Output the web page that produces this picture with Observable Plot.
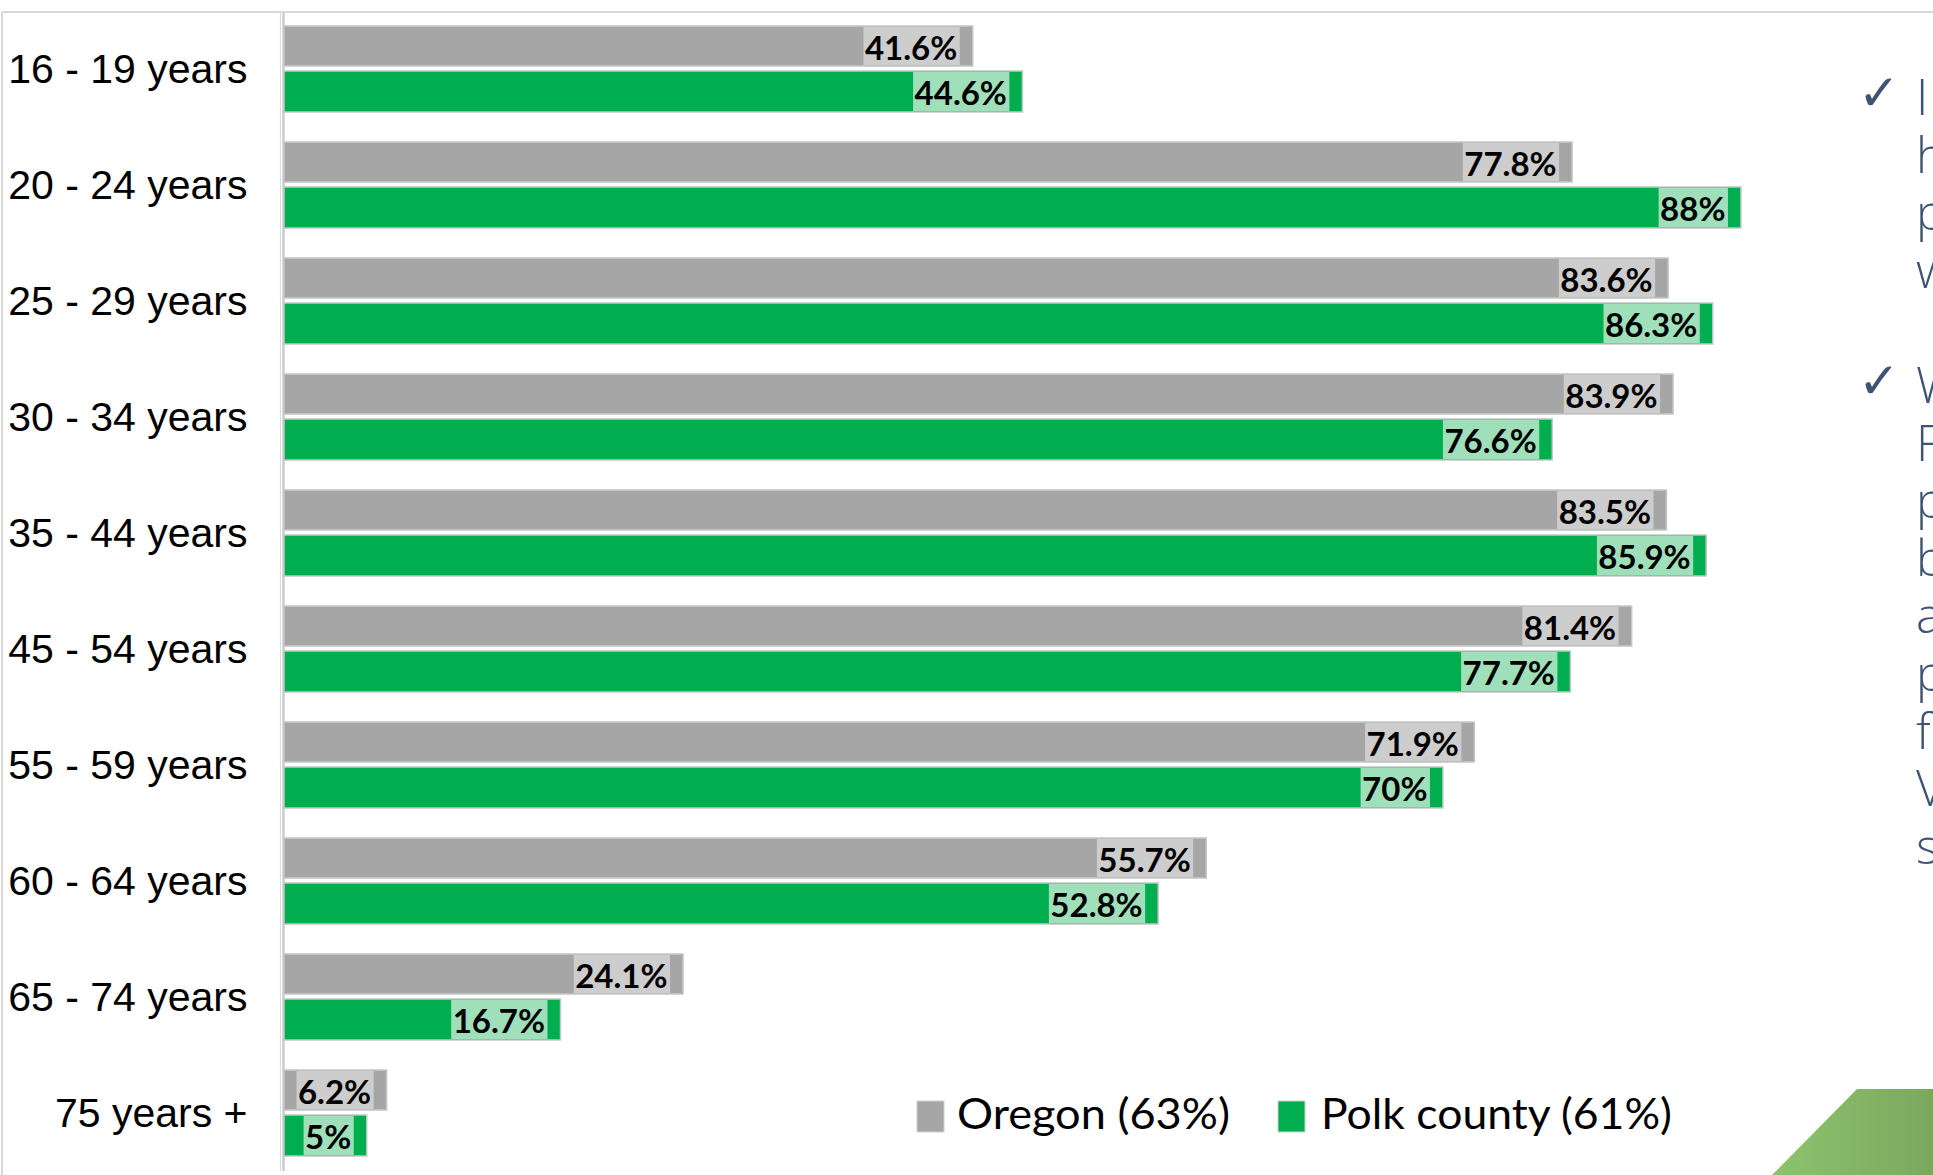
<!DOCTYPE html>
<html>
<head>
<meta charset="utf-8">
<script src="https://cdn.jsdelivr.net/npm/d3@7"></script>
<script src="https://cdn.jsdelivr.net/npm/@observablehq/plot@0.6"></script>
<style>
  html, body { margin: 0; padding: 0; background: #fff; width: 1933px; height: 1175px; overflow: hidden; }
  #wrap { position: relative; width: 1933px; height: 1175px; overflow: hidden; background: #fff; }
  #chart { position: absolute; left: 0; top: 0; }
  #overlay { position: absolute; left: 0; top: 0; pointer-events: none; }
</style>
</head>
<body>
<div id="wrap">
  <div id="chart"></div>
  <svg id="overlay" width="1933" height="1175"></svg>
</div>
<script>
// ---------- data ----------
const categories = ["16 - 19 years", "20 - 24 years", "25 - 29 years", "30 - 34 years", "35 - 44 years",
                    "45 - 54 years", "55 - 59 years", "60 - 64 years", "65 - 74 years", "75 years +"];
const oregonValues = [41.6, 77.8, 83.6, 83.9, 83.5, 81.4, 71.9, 55.7, 24.1, 6.2];
const polkValues   = [44.6, 88, 86.3, 76.6, 85.9, 77.7, 70, 52.8, 16.7, 5];
const seriesNames  = ["Oregon (63%)", "Polk county (61%)"];
const noteLines1 = ["I", "h", "p", "w"];
const noteLines2 = ["W", "F", "p", "b", "a", "p", "f", "V", "s"];

// ---------- colours & layout ----------
const W = 1933, H = 1175, ML = 284, MR = 0, MT = 11, MB = 4;
const xMax = 99.6;
const k = (W - ML - MR) / xMax; // px per percentage point
const grayBar = "#a6a6a6", grayLabel = "#cdcdcd";
const greenBar = "#00ad4f", greenLabel = "#9fdfba";
const labelFontSize = 33;
const ctx = document.createElement("canvas").getContext("2d");
ctx.font = `bold ${labelFontSize}px Lato`;

const gapEnd = 13, padL = 1, padR = 3;
function rowsFor(values, series) {
  return categories.map((c, i) => {
    const label = `${values[i]}%`;
    return {cat: c, series, v: values[i], label, w: ctx.measureText(label).width};
  });
}
const oregonRows = rowsFor(oregonValues, seriesNames[0]);
const polkRows = rowsFor(polkValues, seriesNames[1]);
const bgX1 = d => d.v - (gapEnd + d.w + padL + padR) / k;
const bgX2 = d => d.v - gapEnd / k;

const labelText = (rows, dy) => Plot.text(rows, {
  x: "v", y: "cat", text: "label", dx: -(gapEnd + padR), dy,
  textAnchor: "end", fill: "#000", fontFamily: "Lato", fontWeight: "bold", fontSize: labelFontSize
});

const chart = Plot.plot({
  width: W, height: H,
  marginLeft: ML, marginRight: MR, marginTop: MT, marginBottom: MB,
  style: {background: "transparent", fontFamily: "'Liberation Sans', Arial, sans-serif"},
  x: {domain: [0, xMax], axis: null},
  y: {domain: categories, paddingInner: 30 / 116, paddingOuter: 15 / 116, axis: null},
  marks: [
    Plot.ruleX([0], {stroke: "#dcdcdc", strokeWidth: 1.2, dx: -4}),
    Plot.ruleX([0], {stroke: "#cbcbcb", strokeWidth: 2.5, dx: -1}),
    // Oregon
    Plot.barX(oregonRows, {x: "v", y: "cat", fill: grayBar, stroke: "#c6c6c6", strokeWidth: 1.5, insetBottom: 46}),
    Plot.barX(oregonRows, {x1: bgX1, x2: bgX2, y: "cat", fill: grayLabel, insetBottom: 47, insetTop: 1}),
    labelText(oregonRows, -20.5),
    // Polk county
    Plot.barX(polkRows, {x: "v", y: "cat", fill: greenBar, stroke: "#c6c6c6", strokeWidth: 1.5, insetTop: 45}),
    Plot.barX(polkRows, {x1: bgX1, x2: bgX2, y: "cat", fill: greenLabel, insetTop: 46, insetBottom: 1}),
    labelText(polkRows, 25),
    Plot.axisY({tickSize: 0, tickPadding: 37, fontSize: 41, fontFamily: "'Liberation Sans', Arial, sans-serif",
                fill: "#000", label: null, dy: 0.5})
  ]
});
document.getElementById("chart").appendChild(chart);

// ---------- decoration & legend overlay ----------
const svg = d3.select("#overlay");
const defs = svg.append("defs");
const grad = defs.append("linearGradient").attr("id", "gshape").attr("x1", "0").attr("x2", "1").attr("y1", "0").attr("y2", "0");
grad.append("stop").attr("offset", "0").attr("stop-color", "#8dc36e");
grad.append("stop").attr("offset", "1").attr("stop-color", "#7aa95e");

// panel frame lines
svg.append("line").attr("x1", 2).attr("x2", W).attr("y1", 12).attr("y2", 12).attr("stroke", "#d9d9d9").attr("stroke-width", 2);
svg.append("line").attr("x1", 2).attr("x2", 2).attr("y1", 12).attr("y2", H).attr("stroke", "#d9d9d9").attr("stroke-width", 2);

// green corner shape
svg.append("polygon").attr("points", "1857,1089 1933,1089 1933,1175 1772,1175").attr("fill", "url(#gshape)");

// legend
const legendItems = [
  {name: seriesNames[0], color: grayBar, sx: 917, tx: 957, len: 273},
  {name: seriesNames[1], color: greenBar, sx: 1278, tx: 1321, len: 351}
];
legendItems.forEach(it => {
  svg.append("rect").attr("x", it.sx).attr("y", 1101).attr("width", 27).attr("height", 31)
    .attr("fill", it.color).attr("stroke", "#d0d0d0").attr("stroke-width", 1);
  svg.append("text").attr("x", it.tx).attr("y", 1129).attr("font-family", "Lato, sans-serif").attr("font-size", 42)
    .attr("fill", "#000").attr("textLength", it.len).attr("lengthAdjust", "spacingAndGlyphs").text(it.name);
});

// right-side note text (cropped in the original)
const noteColor = "#3e5474";
const lineStep = 57.6;
[[noteLines1, 115], [noteLines2, 115 + 5 * lineStep]].forEach(([lines, y0]) => {
  svg.append("text").attr("x", 1858).attr("y", y0 - 5).attr("font-family", "'DejaVu Sans', sans-serif")
    .attr("font-weight", "bold").attr("font-size", 50).attr("fill", noteColor).text("✓");
  lines.forEach((t, i) => {
    svg.append("text").attr("x", 1916).attr("y", y0 + i * lineStep)
      .attr("font-family", "'Open Sans', sans-serif").attr("font-weight", 300).attr("font-size", 49)
      .attr("fill", noteColor).text(t);
  });
});
</script>
</body>
</html>
